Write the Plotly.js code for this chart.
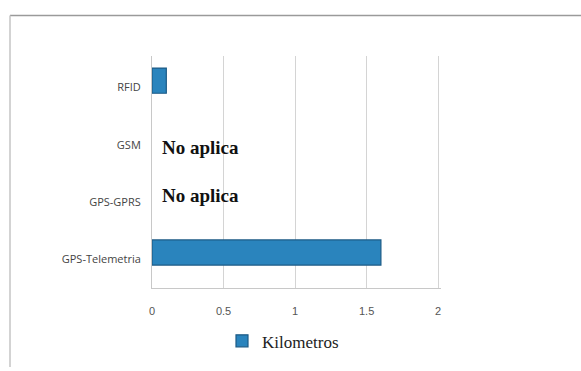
<!DOCTYPE html>
<html>
<head>
<meta charset="utf-8">
<script src="https://cdn.plot.ly/plotly-3.0.1.min.js"></script>
<style>
  html, body { margin: 0; padding: 0; background: #ffffff; }
  #chart { width: 581px; height: 371px; }
</style>
</head>
<body>
<div id="chart"></div>
<script>
// Data
const categories = ['GPS-Telemetria', 'GPS-GPRS', 'GSM', 'RFID'];
const kilometros = [1.6, null, null, 0.1];
const notes = ['', 'No aplica', 'No aplica', ''];
const xTicks = [0, 0.5, 1, 1.5, 2];
const xTickLabels = ['0', '0.5', '1', '1.5', '2'];
const seriesName = 'Kilometros';

const W = 581, H = 371;
const M = { l: 152, r: 140, t: 56, b: 80 };
const pw = W - M.l - M.r, ph = H - M.t - M.b;
const px = v => (v - M.l) / pw;          // figure px -> paper x
const py = v => (H - M.b - v) / ph;      // figure px -> paper y

const barWidth = 0.44;
const trace = {
  type: 'bar',
  orientation: 'h',
  name: seriesName,
  y: categories,
  x: kilometros,
  width: barWidth,
  offset: -barWidth / 2 + 0.12,
  marker: { color: '#2a84bd', line: { color: '#1b5a85', width: 1.2 } },
  showlegend: true,
  hoverinfo: 'x+y'
};

const annotations = [];
categories.forEach((c, i) => {
  if (notes[i]) {
    annotations.push({
      x: 0, y: c, xref: 'x', yref: 'y', xanchor: 'left', yanchor: 'middle',
      xshift: 8, yshift: i === 1 ? 7 : -3,
      text: '<b>' + notes[i] + '</b>', showarrow: false,
      font: { family: 'Liberation Serif, DejaVu Serif, serif', size: 19, color: '#111' }
    });
  }
});

const layout = {
  width: W, height: H,
  margin: M,
  paper_bgcolor: '#ffffff',
  plot_bgcolor: '#ffffff',
  xaxis: {
    range: [0, 2.02],
    tickvals: xTicks, ticktext: xTickLabels,
    showgrid: true, gridcolor: '#d4d4d4', gridwidth: 1,
    zeroline: false, showline: true, linecolor: '#c8c8c8',
    ticks: '', ticklabelstandoff: 13,
    tickfont: { family: 'Liberation Sans, DejaVu Sans, sans-serif', size: 11, color: '#555' },
    fixedrange: true
  },
  yaxis: {
    type: 'category',
    categoryorder: 'array', categoryarray: categories,
    range: [-0.5, 3.55],
    showgrid: false, zeroline: false,
    showline: true, linecolor: '#c8c8c8',
    ticks: '', ticklabelstandoff: 8,
    tickfont: { family: 'Open Sans, Liberation Sans, sans-serif', size: 11, color: '#444' },
    fixedrange: true
  },
  legend: {
    orientation: 'h',
    x: px(283), y: py(345), xanchor: 'center', yanchor: 'middle',
    font: { family: 'Liberation Serif, DejaVu Serif, serif', size: 17, color: '#222' },
    itemwidth: 30
  },
  annotations: annotations,
  shapes: [
    { type: 'line', xref: 'paper', yref: 'paper',
      x0: px(10), x1: px(581), y0: py(15), y1: py(15),
      line: { color: '#9a9a9a', width: 1.5 } },
    { type: 'line', xref: 'paper', yref: 'paper',
      x0: px(10), x1: px(10), y0: py(15), y1: py(371),
      line: { color: '#c4c4c4', width: 1.5 } }
  ]
};

Plotly.newPlot('chart', [trace], layout, { displayModeBar: false, staticPlot: true });
</script>
</body>
</html>
